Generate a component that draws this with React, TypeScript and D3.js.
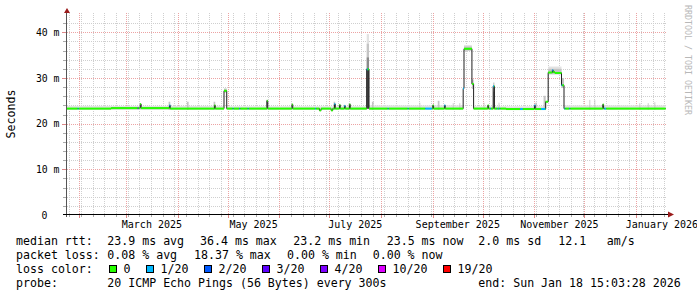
import React from "react";
import * as d3 from "d3";

// ---------- data ----------
const timeDomain = ["2025-01-24T13", "2026-01-19T13"];
const yMax = 43.79;
const yTicks = [0, 10, 20, 30, 40];
const xLabelMonths = ["2025-03", "2025-05", "2025-07", "2025-09", "2025-11", "2026-01"];

// median RTT (ms) as steps: value holds until the next entry; last entry = end of data
const medianSteps: [string, number][] = [
  ["2025-01-24T12", 23.3],
  ["2025-02-20T00", 23.4],
  ["2025-03-09T12", 24.3],
  ["2025-03-10T00", 23.4],
  ["2025-03-27T00", 24.0],
  ["2025-03-27T12", 23.3],
  ["2025-04-23T00", 24.0],
  ["2025-04-23T12", 23.3],
  ["2025-04-28T18", 27.2],
  ["2025-04-30T09", 23.3],
  ["2025-05-24T12", 25.0],
  ["2025-05-25T00", 23.3],
  ["2025-06-08T12", 24.2],
  ["2025-06-09T00", 23.3],
  ["2025-06-25T00", 22.9],
  ["2025-06-26T00", 23.3],
  ["2025-07-02T00", 22.9],
  ["2025-07-03T00", 23.3],
  ["2025-07-04T00", 24.3],
  ["2025-07-04T12", 23.3],
  ["2025-07-07T00", 24.1],
  ["2025-07-07T12", 23.3],
  ["2025-07-10T00", 23.9],
  ["2025-07-10T12", 23.3],
  ["2025-07-13T00", 24.2],
  ["2025-07-13T12", 23.3],
  ["2025-07-23T09", 31.9],
  ["2025-07-24T18", 23.3],
  ["2025-09-01T00", 24.0],
  ["2025-09-01T12", 23.3],
  ["2025-09-08T00", 24.0],
  ["2025-09-08T12", 23.3],
  ["2025-09-19T06", 27.7],
  ["2025-09-19T18", 36.4],
  ["2025-09-24T12", 28.7],
  ["2025-09-25T12", 23.3],
  ["2025-10-04T00", 24.0],
  ["2025-10-04T12", 23.3],
  ["2025-10-07T06", 28.2],
  ["2025-10-08T00", 23.3],
  ["2025-10-15T00", 23.2],
  ["2025-11-01T00", 24.0],
  ["2025-11-01T12", 23.2],
  ["2025-11-07T18", 24.8],
  ["2025-11-09T06", 31.2],
  ["2025-11-11T18", 31.7],
  ["2025-11-12T06", 31.3],
  ["2025-11-13T06", 31.1],
  ["2025-11-17T06", 28.4],
  ["2025-11-18T18", 23.3],
  ["2025-12-12T00", 24.2],
  ["2025-12-12T12", 23.3],
  ["2026-01-18T18", 23.3],
];

// packet-loss runs: [start, end, loss class index]
const lossRuns: [string, string, number][] = [
  ["2025-01-31T00", "2025-01-31T12", 1],
  ["2025-03-08T00", "2025-03-08T12", 3],
  ["2025-03-27T00", "2025-03-27T12", 1],
  ["2025-05-04T00", "2025-05-04T12", 1],
  ["2025-05-08T00", "2025-05-08T12", 1],
  ["2025-05-13T00", "2025-05-13T12", 1],
  ["2025-06-22T12", "2025-06-23T00", 1],
  ["2025-07-04T00", "2025-07-04T12", 1],
  ["2025-07-10T00", "2025-07-10T12", 1],
  ["2025-07-23T09", "2025-07-24T00", 1],
  ["2025-08-05T00", "2025-08-05T12", 1],
  ["2025-08-17T00", "2025-08-17T12", 1],
  ["2025-08-27T12", "2025-08-31T12", 1],
  ["2025-09-08T00", "2025-09-08T12", 1],
  ["2025-09-19T06", "2025-09-19T18", 1],
  ["2025-10-05T12", "2025-10-06T00", 1],
  ["2025-10-07T06", "2025-10-07T18", 1],
  ["2025-10-09T12", "2025-10-10T00", 1],
  ["2025-10-11T00", "2025-10-11T12", 1],
  ["2025-10-23T12", "2025-10-25T00", 1],
  ["2025-11-01T00", "2025-11-01T12", 1],
  ["2025-11-05T00", "2025-11-07T12", 1],
  ["2025-11-11T18", "2025-11-12T06", 1],
  ["2025-11-17T06", "2025-11-17T18", 1],
  ["2025-11-19T00", "2025-11-19T12", 1],
  ["2025-11-22T00", "2025-11-22T12", 1],
  ["2025-12-13T00", "2025-12-14T00", 1],
];

// smoke (ping spread): [start, end, low ms, high ms, shade level]
const smokeLayers: [string, string, number, number, number][] = [
  ["2025-01-24T12", "2025-04-28T18", 23.0, 23.9, 0],
  ["2025-04-30T09", "2025-07-23T09", 23.0, 23.8, 0],
  ["2025-07-24T18", "2025-09-19T06", 23.0, 24.0, 0],
  ["2025-09-25T12", "2025-11-07T18", 23.0, 23.8, 0],
  ["2025-11-18T18", "2026-01-18T18", 23.0, 24.0, 0],
  ["2025-03-26T12", "2025-03-27T12", 23.0, 24.8, 1],
  ["2025-04-06T12", "2025-04-07T12", 23.0, 24.8, 1],
  ["2025-04-22T12", "2025-04-23T12", 23.0, 24.8, 1],
  ["2025-05-24T00", "2025-05-25T00", 23.2, 25.2, 1],
  ["2025-07-03T12", "2025-07-04T12", 23.0, 24.8, 1],
  ["2025-07-12T12", "2025-07-13T12", 23.0, 24.5, 1],
  ["2025-07-26T12", "2025-07-27T12", 23.0, 24.8, 1],
  ["2025-08-24T00", "2025-08-24T12", 23.0, 24.6, 1],
  ["2025-09-04T00", "2025-09-05T00", 23.0, 25.0, 1],
  ["2025-09-13T00", "2025-09-13T12", 23.0, 24.5, 1],
  ["2025-09-17T00", "2025-09-17T12", 23.0, 24.5, 1],
  ["2025-10-01T12", "2025-10-02T00", 23.0, 24.6, 1],
  ["2025-10-10T12", "2025-10-11T00", 23.0, 24.6, 1],
  ["2025-11-01T12", "2025-11-02T12", 23.0, 24.6, 1],
  ["2025-11-06T12", "2025-11-07T18", 23.0, 26.1, 1],
  ["2025-12-04T00", "2025-12-04T12", 23.0, 25.2, 1],
  ["2025-12-07T00", "2025-12-07T12", 23.0, 25.2, 1],
  ["2026-01-03T00", "2026-01-03T12", 23.0, 24.5, 1],
  ["2026-01-08T00", "2026-01-08T12", 23.0, 24.5, 1],
  ["2026-01-12T00", "2026-01-12T12", 23.0, 24.7, 1],
  ["2025-04-28T18", "2025-04-30T09", 26.8, 27.7, 1],
  ["2025-09-19T18", "2025-09-24T12", 35.9, 37.2, 0],
  ["2025-09-19T18", "2025-09-24T12", 36.0, 36.9, 1],
  ["2025-09-24T12", "2025-09-25T12", 27.6, 29.7, 1],
  ["2025-10-07T06", "2025-10-08T00", 23.3, 29.0, 1],
  ["2025-10-07T06", "2025-10-08T00", 23.3, 27.0, 2],
  ["2025-11-09T06", "2025-11-17T06", 30.7, 32.5, 0],
  ["2025-11-09T06", "2025-11-17T06", 30.9, 32.0, 1],
  ["2025-11-17T06", "2025-11-18T18", 27.8, 30.0, 1],
  ["2025-07-23T09", "2025-07-24T18", 23.3, 39.6, 0],
  ["2025-07-23T09", "2025-07-24T18", 23.3, 37.5, 1],
  ["2025-07-23T09", "2025-07-24T18", 23.3, 34.5, 2],
  ["2025-07-23T09", "2025-07-24T18", 23.3, 32.0, 3],
];

const lossColors = ["#26ff00", "#00b8ff", "#0059ff", "#5e00ff", "#7e00ff", "#dd00ff", "#ff0000"];
const lossLabels = ["0", "1/20", "2/20", "3/20", "4/20", "10/20", "19/20"];
const smokeShades = ["#e2e2e2", "#c4c4c4", "#8a8a8a", "#444444"];

const legendMedian = ["median rtt:", "23.9 ms avg", "36.4 ms max", "23.2 ms min", "23.5 ms now", "2.0 ms sd", "12.1", "am/s"];
const legendLoss = ["packet loss:", "0.08 % avg", "18.37 % max", "0.00 % min", "0.00 % now"];
const legendProbe = ["probe:", "20 ICMP Echo Pings (56 Bytes) every 300s", "end: Sun Jan 18 15:03:28 2026"];
const legendLossTitle = "loss color:";

// ---------- layout ----------
const W = 697, H = 297;
const L = 67, R = 667, TOP = 15, BOT = 215;
const MONO = "'DejaVu Sans Mono', monospace";
const row1X = [16, 107.3, 200, 293.3, 386.7, 478.3, 558.3, 606.7];
const row2X = [16, 107.3, 194, 287, 372.7];
const row4X = [16, 107.3, 478.3];

const T = (s: string) => new Date(s + ":00:00Z");

export default function App() {
  const x = d3.scaleUtc().domain(timeDomain.map(T)).range([L, R]);
  const y = d3.scaleLinear().domain([0, yMax]).range([BOT, TOP]);
  const [t0, t1] = x.domain();

  const minorY = d3.range(2, yMax, 2).filter((v) => v % 10 !== 0);
  const majorY = yTicks.filter((v) => v > 0);
  const weeks = d3.utcSunday.range(t0, t1);
  const months = d3.utcMonth.range(t0, t1);
  const r = (v: number) => Math.round(v) + 0.5;

  // colored median band segments
  const breaks = Array.from(
    new Set([...medianSteps.map((d) => d[0]), ...lossRuns.flatMap((q) => [q[0], q[1]])])
  )
    .map(T)
    .sort((a, b) => +a - +b);
  const lastT = T(medianSteps[medianSteps.length - 1][0]);
  const medianAt = (t: Date) => {
    let v = medianSteps[0][1];
    for (const [s, val] of medianSteps) if (+T(s) <= +t) v = val;
    return v;
  };
  const lossAt = (t: Date) => {
    for (const [a, b, l] of lossRuns) if (+T(a) <= +t && +t < +T(b)) return l;
    return 0;
  };
  const segs = breaks
    .slice(0, -1)
    .map((t, i) => ({ a: t, b: breaks[i + 1] }))
    .filter((s) => +s.b <= +lastT);

  const medLine = d3
    .line<[string, number]>()
    .x((d) => x(T(d[0])))
    .y((d) => y(d[1]))
    .curve(d3.curveStepAfter)(medianSteps);

  // loss legend layout
  let cx = 108.7;
  const lossItems = lossLabels.map((lab, i) => {
    const item = { bx: cx, tx: cx + 14.7, lab, col: lossColors[i] };
    cx = cx + 14.7 + lab.length * 6.98 + 15.4;
    return item;
  });

  return (
    <svg
      width={W}
      height={H}
      viewBox={`0 0 ${W} ${H}`}
      style={{ position: "absolute", left: 0, top: 0, background: "#fff" }}
    >
      <defs>
        <clipPath id="plot">
          <rect x={L} y={TOP - 3} width={R - L} height={BOT - TOP + 3} />
        </clipPath>
      </defs>
      <rect width={W} height={H} fill="#fff" />

      {/* grid */}
      <g shapeRendering="crispEdges" strokeDasharray="1,1">
        {minorY.map((v) => (
          <line key={"my" + v} x1={L} x2={R} y1={r(y(v))} y2={r(y(v))} stroke="#cfcfcf" />
        ))}
        {weeks.map((d) => (
          <line key={"wk" + +d} x1={r(x(d))} x2={r(x(d))} y1={TOP - 2} y2={BOT} stroke="#cfcfcf" />
        ))}
        {majorY.map((v) => (
          <line key={"My" + v} x1={L} x2={R} y1={r(y(v))} y2={r(y(v))} stroke="#eca3a3" />
        ))}
        {months.map((d) => (
          <line key={"mo" + +d} x1={r(x(d))} x2={r(x(d))} y1={TOP - 2} y2={BOT} stroke="#eca3a3" />
        ))}
      </g>
      {/* ticks */}
      <g shapeRendering="crispEdges">
        {minorY.map((v) => (
          <line key={"ty" + v} x1={63} x2={66} y1={r(y(v))} y2={r(y(v))} stroke="#aaa" />
        ))}
        {majorY.map((v) => (
          <line key={"tY" + v} x1={62} x2={66} y1={r(y(v))} y2={r(y(v))} stroke="#d88" />
        ))}
        {weeks.map((d) => (
          <line key={"tw" + +d} x1={r(x(d))} x2={r(x(d))} y1={215} y2={217} stroke="#aaa" />
        ))}
        {months.map((d) => (
          <line key={"tm" + +d} x1={r(x(d))} x2={r(x(d))} y1={215} y2={218} stroke="#d88" />
        ))}
      </g>

      {/* data */}
      <g clipPath="url(#plot)">
        {smokeLayers.map(([a, b, lo, hi, s], i) => (
          <rect
            key={"sm" + i}
            x={x(T(a))}
            width={Math.max(0.8, x(T(b)) - x(T(a)))}
            y={y(hi)}
            height={y(lo) - y(hi)}
            fill={smokeShades[s]}
          />
        ))}
        <path d={medLine || ""} fill="none" stroke="#202020" strokeWidth={1} />
        {segs.map((s, i) => {
          const m = medianAt(s.a);
          return (
            <rect
              key={"bd" + i}
              x={x(s.a)}
              width={x(s.b) - x(s.a)}
              y={y(m) - 1}
              height={2}
              fill={lossColors[lossAt(s.a)]}
            />
          );
        })}
      </g>

      {/* axes */}
      <g shapeRendering="crispEdges">
        <line x1={66.5} x2={66.5} y1={12} y2={217} stroke="#555" />
        <line x1={63} x2={669} y1={214.5} y2={214.5} stroke="#000" />
      </g>
      <polygon points="67,8 64,13 70,13" fill="#9b1c1c" />
      <polygon points="674,214.5 668,211.5 668,217.5" fill="#9b1c1c" />

      {/* y labels */}
      {yTicks.map((v) => (
        <text
          key={"yl" + v}
          x={v === 0 ? 47.5 : 59.5}
          y={y(v) + 3.6}
          textAnchor="end"
          fontFamily={MONO}
          fontSize={9.8}
          fill="#000"
        >
          {v === 0 ? "0" : `${v} m`}
        </text>
      ))}
      {/* x labels */}
      {xLabelMonths.map((m) => {
        const a = T(m + "-01T00");
        const b = d3.utcMonth.offset(a, 1);
        const mid = new Date((+a + +b) / 2);
        return (
          <text
            key={"xl" + m}
            x={x(mid)}
            y={228}
            textAnchor="middle"
            fontFamily={MONO}
            fontSize={10}
            fill="#000"
          >
            {d3.utcFormat("%B %Y")(a)}
          </text>
        );
      })}

      <text
        transform="translate(15,114) rotate(-90)"
        textAnchor="middle"
        fontFamily={MONO}
        fontSize={11.6}
        fill="#000"
      >
        Seconds
      </text>
      <text
        transform="translate(684.5,5) rotate(90)"
        fontFamily={MONO}
        fontSize={8.3}
        fill="#b8b8b8"
      >
        RRDTOOL / TOBI OETIKER
      </text>

      {/* legend */}
      <g fontFamily={MONO} fontSize={11.6} fill="#000">
        {legendMedian.map((t, i) => (
          <text key={"l1" + i} x={row1X[i]} y={245.3}>
            {t}
          </text>
        ))}
        {legendLoss.map((t, i) => (
          <text key={"l2" + i} x={row2X[i]} y={259.3}>
            {t}
          </text>
        ))}
        <text x={16} y={273.3}>
          {legendLossTitle}
        </text>
        {lossItems.map((it, i) => (
          <g key={"li" + i}>
            <rect
              x={Math.round(it.bx) + 0.5}
              y={265.5}
              width={7}
              height={7}
              fill={it.col}
              stroke="#000"
              shapeRendering="crispEdges"
            />
            <text x={it.tx} y={273.3}>
              {it.lab}
            </text>
          </g>
        ))}
        {legendProbe.map((t, i) => (
          <text key={"l4" + i} x={row4X[i]} y={287.3}>
            {t}
          </text>
        ))}
      </g>
    </svg>
  );
}
